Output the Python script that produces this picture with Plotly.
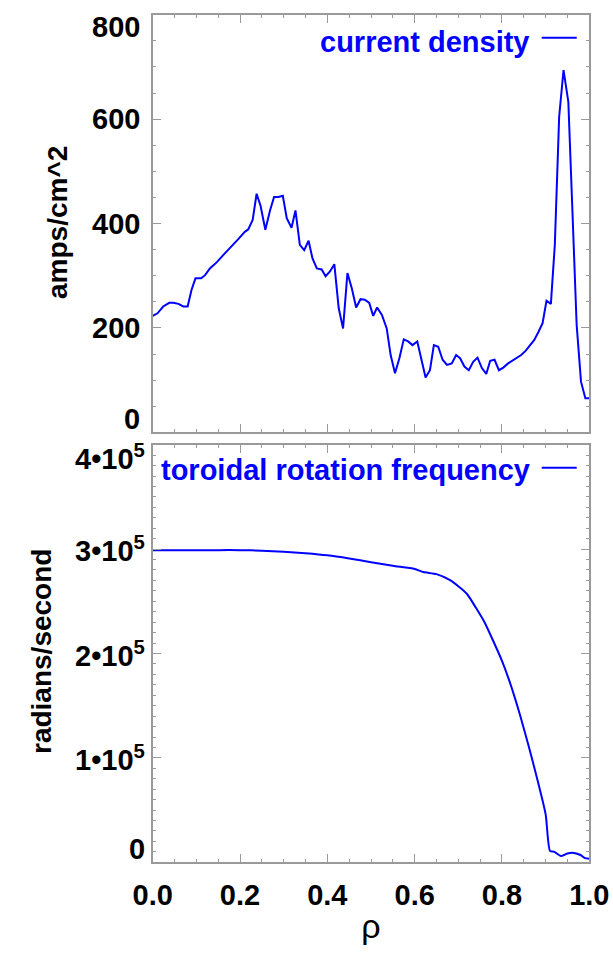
import plotly.graph_objects as go

# ---------------- data ----------------
rho_j = [0.0, 0.011, 0.024, 0.038, 0.047, 0.059, 0.070, 0.080, 0.089, 0.098,
         0.111, 0.120, 0.131, 0.147, 0.162, 0.181, 0.196, 0.211, 0.219, 0.229,
         0.238, 0.247, 0.258, 0.269, 0.278, 0.288, 0.298, 0.307, 0.318, 0.327,
         0.337, 0.347, 0.357, 0.366, 0.376, 0.387, 0.396, 0.406, 0.416, 0.426,
         0.436, 0.446, 0.456, 0.466, 0.476, 0.486, 0.496, 0.505, 0.514, 0.525,
         0.536, 0.545, 0.555, 0.565, 0.575, 0.585, 0.595, 0.606, 0.616, 0.625,
         0.635, 0.644, 0.654, 0.664, 0.674, 0.685, 0.695, 0.704, 0.714, 0.724,
         0.734, 0.744, 0.754, 0.764, 0.773, 0.783, 0.793, 0.803, 0.814, 0.824,
         0.834, 0.844, 0.854, 0.864, 0.874, 0.884, 0.893, 0.902, 0.912, 0.921,
         0.931, 0.941, 0.952, 0.961, 0.971, 0.981, 0.991, 1.0]
current_density = [223, 228, 241, 248, 248, 246, 241, 241, 273, 295,
                   295, 301, 314, 326, 340, 356, 370, 384, 389, 407,
                   457, 434, 388, 426, 451, 451, 453, 410, 392, 425,
                   359, 349, 367, 333, 314, 312, 299, 308, 322, 238,
                   199, 305, 276, 239, 255, 254, 248, 223, 239, 225,
                   199, 148, 113, 142, 178, 174, 167, 174, 139, 105,
                   119, 167, 164, 139, 129, 132, 148, 142, 126, 119,
                   135, 143, 123, 112, 137, 139, 119, 124, 132, 137,
                   142, 148, 156, 167, 177, 193, 209, 252, 246, 359,
                   605, 694, 633, 432, 206, 97, 65, 65]

rho_w = [0.0, 0.05, 0.1, 0.15, 0.2, 0.25, 0.3, 0.35, 0.4, 0.45, 0.5, 0.55,
         0.6, 0.62, 0.65, 0.68, 0.7, 0.72, 0.74, 0.76, 0.78, 0.8, 0.82, 0.84,
         0.86, 0.88, 0.9, 0.91, 0.92, 0.935, 0.95, 0.965, 0.98, 0.99, 1.0]
rotation = [299000, 299000, 299000, 299000, 299000, 298500, 297500, 296000,
            294000, 291000, 287500, 284000, 281000, 278000, 276000, 270500,
            264500, 257000, 244000, 230000, 212000, 193000, 170000, 143000,
            113000, 81000, 46000, 11000, 10000, 6000, 8500, 9000, 7000, 4000,
            3500]

x_ticks = [0.0, 0.2, 0.4, 0.6, 0.8, 1.0]
y1_ticks = [0, 200, 400, 600, 800]
y1_labels = ["0", "200", "400", "600", "800"]
y2_ticks = [0, 100000, 200000, 300000, 400000]
y2_labels = ["0", "1•10<sup>5</sup>", "2•10<sup>5</sup>", "3•10<sup>5</sup>", "4•10<sup>5</sup>"]

name_top = "current density"
name_bot = "toroidal rotation frequency"
ytitle_top = "amps/cm^2"
ytitle_bot = "radians/second"
xtitle = "ρ"

# ---------------- style ----------------
W, H = 613, 958
BLUE = "#0000ff"
FRAME = "#9a9a9a"
FONT = "Liberation Sans, Arial, Helvetica, sans-serif"
TICK_SIZE = 29

xl, xr = 152.7 / W, 589.3 / W
top_dom = [1 - 432.3 / H, 1 - 14.7 / H]
bot_dom = [1 - 862.3 / H, 1 - 444.7 / H]

fig = go.Figure()
fig.add_trace(go.Scatter(x=rho_j, y=current_density, mode="lines",
                         line=dict(color=BLUE, width=2), xaxis="x", yaxis="y",
                         showlegend=False, name=name_top))
fig.add_trace(go.Scatter(x=rho_w, y=rotation, mode="lines",
                         line=dict(color=BLUE, width=2, shape="spline", smoothing=0.6),
                         xaxis="x2", yaxis="y2", showlegend=False, name=name_bot))

common_axis = dict(showline=True, mirror="ticks", linecolor=FRAME, linewidth=1.5,
                   ticks="inside", tickcolor=FRAME, tickwidth=1.2, showgrid=False,
                   zeroline=False, automargin=False)

fig.update_layout(
    width=W, height=H, margin=dict(l=0, r=0, t=0, b=0, autoexpand=False),
    paper_bgcolor="white", plot_bgcolor="white",
    xaxis=dict(domain=[xl, xr], range=[0, 1], anchor="y", tickvals=x_ticks,
               ticklen=9, showticklabels=False,
               minor=dict(dtick=0.05, tick0=0, ticklen=4, ticks="inside", tickcolor=FRAME),
               **common_axis),
    yaxis=dict(domain=top_dom, range=[0, 800], anchor="x", tickvals=y1_ticks,
               ticklen=9, showticklabels=False,
               minor=dict(dtick=50, tick0=0, ticklen=4, ticks="inside", tickcolor=FRAME),
               **common_axis),
    xaxis2=dict(domain=[xl, xr], range=[0, 1], anchor="y2", tickvals=x_ticks,
                ticktext=[f"{v:.1f}" for v in x_ticks],
                ticklen=9, showticklabels=True, ticklabelstandoff=6,
                tickfont=dict(family=FONT, size=TICK_SIZE, color="black", weight="bold"),
                title=dict(text=xtitle, font=dict(family=FONT, size=34, color="black"),
                           standoff=4),
                minor=dict(dtick=0.05, tick0=0, ticklen=4, ticks="inside", tickcolor=FRAME),
                **common_axis),
    yaxis2=dict(domain=bot_dom, range=[0, 400000], anchor="x2", tickvals=y2_ticks,
                ticklen=9, showticklabels=False,
                minor=dict(dtick=10000, tick0=0, ticklen=4, ticks="inside", tickcolor=FRAME),
                **common_axis),
)

annotations = []
# y tick labels (IDL style: end labels pulled inside the frame)
def ytick_shift(i, n):
    if i == 0:
        return 13
    if i == n - 1:
        return -12
    return 0

for i, (v, t) in enumerate(zip(y1_ticks, y1_labels)):
    annotations.append(dict(x=142 / W, xref="paper", y=v, yref="y", text=t,
                            xanchor="right", yanchor="middle", showarrow=False,
                            yshift=ytick_shift(i, len(y1_ticks)),
                            font=dict(family=FONT, size=TICK_SIZE, color="black", weight="bold")))
for i, (v, t) in enumerate(zip(y2_ticks, y2_labels)):
    annotations.append(dict(x=147 / W, xref="paper", y=v, yref="y2", text=t,
                            xanchor="right", yanchor="middle", showarrow=False,
                            yshift=ytick_shift(i, len(y2_ticks)),
                            font=dict(family=FONT, size=TICK_SIZE, color="black", weight="bold")))
# y axis titles
annotations.append(dict(x=57 / W, xref="paper", y=1 - 223 / H, yref="paper",
                        text=ytitle_top, textangle=-90, showarrow=False,
                        xanchor="center", yanchor="middle",
                        font=dict(family=FONT, size=28, color="black", weight="bold")))
annotations.append(dict(x=41 / W, xref="paper", y=1 - 652 / H, yref="paper",
                        text=ytitle_bot, textangle=-90, showarrow=False,
                        xanchor="center", yanchor="middle",
                        font=dict(family=FONT, size=28, color="black", weight="bold")))
# legend labels
annotations.append(dict(x=532 / W, xref="paper", y=1 - 42 / H, yref="paper",
                        text=name_top, showarrow=False, xanchor="right", yanchor="middle",
                        font=dict(family=FONT, size=29, color=BLUE, weight="bold")))
annotations.append(dict(x=532 / W, xref="paper", y=1 - 470 / H, yref="paper",
                        text=name_bot, showarrow=False, xanchor="right", yanchor="middle",
                        font=dict(family=FONT, size=29, color=BLUE, weight="bold")))
fig.update_layout(annotations=annotations)

shapes = [
    dict(type="line", xref="paper", yref="paper", x0=541.7 / W, x1=576.7 / W,
         y0=1 - 37.7 / H, y1=1 - 37.7 / H, line=dict(color=BLUE, width=2)),
    dict(type="line", xref="paper", yref="paper", x0=541.7 / W, x1=576.7 / W,
         y0=1 - 467.7 / H, y1=1 - 467.7 / H, line=dict(color=BLUE, width=2)),
]
fig.update_layout(shapes=shapes)

fig.write_html("out.html")
